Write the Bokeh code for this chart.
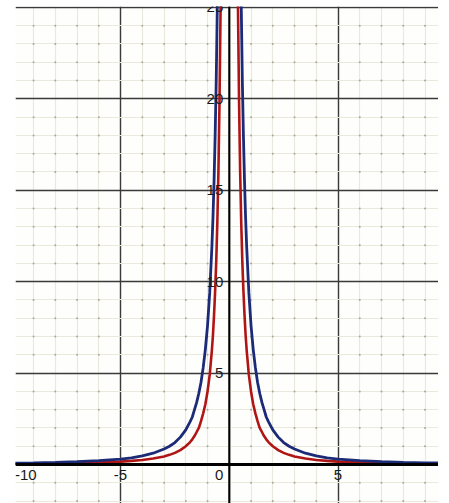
from bokeh.plotting import figure
from bokeh.models import Span, SingleIntervalTicker, Range1d, Grid, ColumnDataSource
from bokeh.embed import file_html
from bokeh.resources import INLINE
from bokeh.core.properties import value

# ---- data (right half; curves are mirror-symmetric) ----
blue_x = [0.52, 0.55, 0.6, 0.65, 0.7, 0.75, 0.8, 0.9, 1.0, 1.1, 1.2, 1.3, 1.4, 1.5, 1.6,
          1.7, 1.8, 2.0, 2.25, 2.5, 2.75, 3.0, 3.5, 4.0, 4.5, 5.0, 6.0, 7.0, 8.0, 9.0, 10.0]
blue_y = [28.0, 25.1, 21.0, 18.0, 15.5, 13.5, 11.9, 9.4, 7.6, 6.3, 5.3, 4.5, 3.9, 3.4, 3.0,
          2.6, 2.35, 1.9, 1.5, 1.2, 1.0, 0.85, 0.62, 0.48, 0.37, 0.30, 0.21, 0.16, 0.12, 0.09, 0.08]
red_x = [0.38, 0.4, 0.45, 0.5, 0.55, 0.6, 0.65, 0.7, 0.75, 0.8, 0.9, 1.0, 1.1, 1.2, 1.3, 1.4,
         1.5, 1.6, 1.7, 1.8, 2.0, 2.25, 2.5, 2.75, 3.0, 3.5, 4.0, 4.5, 5.0, 6.0, 7.0, 8.0, 9.0, 10.0]
red_y = [27.7, 25.0, 19.8, 16.0, 13.2, 11.1, 9.5, 8.2, 7.1, 6.25, 4.9, 4.0, 3.3, 2.8, 2.37, 2.0,
         1.78, 1.56, 1.38, 1.23, 1.0, 0.79, 0.64, 0.53, 0.44, 0.33, 0.25, 0.2, 0.16, 0.11, 0.08,
         0.06, 0.05, 0.04]

x_ticks = [-10, -5, 0, 5]
x_labels = ["-10", "-5", "0", "5"]
y_ticks = [5, 10, 15, 20, 25]
y_labels = ["5", "10", "15", "20", "25"]

p = figure(width=438, height=503,
           x_range=Range1d(-9.83, 9.62), y_range=Range1d(-2.13, 25.05),
           x_axis_location=None, y_axis_location=None,
           output_backend="svg", toolbar_location=None,
           min_border_left=15, min_border_right=0, min_border_top=6, min_border_bottom=0)
p.outline_line_color = None
p.background_fill_color = "#fefefc"
p.grid.visible = False

for dim in (0, 1):
    g = Grid(dimension=dim, ticker=SingleIntervalTicker(interval=5, num_minor_ticks=5),
             grid_line_color="#3a3a3a", grid_line_width=1.4,
             minor_grid_line_color="#ebe9dc", minor_grid_line_width=1.2)
    p.add_layout(g)

# small dots at minor grid intersections
dx, dy = [], []
for i in range(-9, 10):
    for j in range(-2, 26):
        if i % 5 != 0 and j % 5 != 0:
            dx.append(i)
            dy.append(j)
p.scatter(dx, dy, size=2, color="#a8a8a0", line_color=None)

# axes
p.add_layout(Span(location=0, dimension="width", line_color="black", line_width=3))
p.add_layout(Span(location=0, dimension="height", line_color="black", line_width=2))

# curves
bx = [-v for v in reversed(blue_x)]
by = list(reversed(blue_y))
rx = [-v for v in reversed(red_x)]
ry = list(reversed(red_y))
p.line(rx, ry, line_color="#b01515", line_width=2.6)
p.line(red_x, red_y, line_color="#b01515", line_width=2.6)
p.line(bx, by, line_color="#1c2b78", line_width=2.8)
p.line(blue_x, blue_y, line_color="#1c2b78", line_width=2.8)

# tick labels
x_off = {-10: 14, -5: 0, 0: -10, 5: 0}
src_x = ColumnDataSource(dict(x=x_ticks, y=[0] * len(x_ticks), t=x_labels,
                              xo=[x_off[v] for v in x_ticks]))
p.text(x="x", y="y", text="t", x_offset="xo", y_offset=5, source=src_x,
       text_align="center", text_baseline="top", text_font=value("Liberation Sans"),
       text_font_size="15px", text_color="#1a1a1a")
src_y = ColumnDataSource(dict(x=[0] * len(y_ticks), y=y_ticks, t=y_labels))
p.text(x="x", y="y", text="t", x_offset=-6, source=src_y,
       text_align="right", text_baseline="middle", text_font=value("Liberation Sans"),
       text_font_size="15px", text_color="#1a1a1a")

open("out.html", "w").write(file_html(p, INLINE))
